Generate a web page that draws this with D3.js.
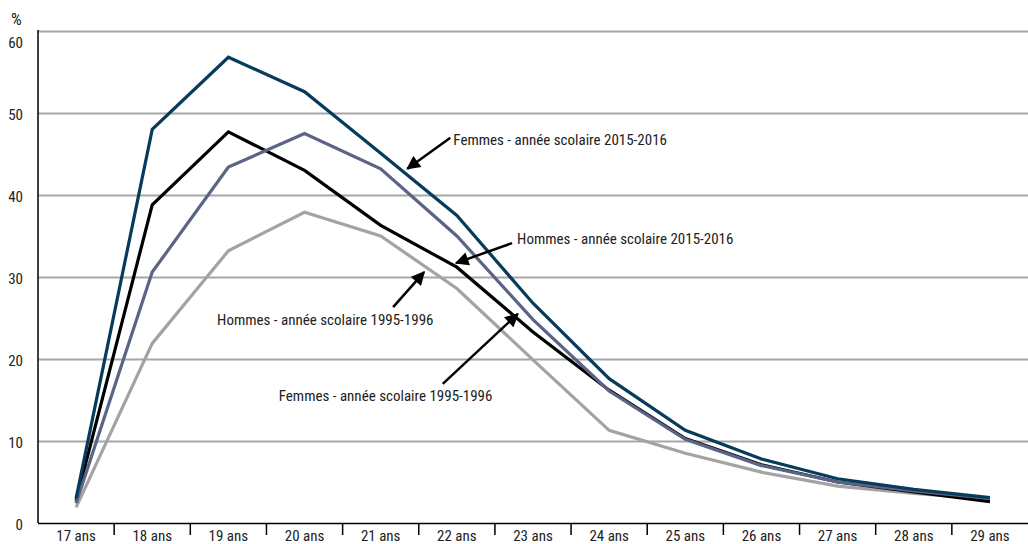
<!DOCTYPE html>
<html>
<head>
<meta charset="utf-8">
<script src="https://cdn.jsdelivr.net/npm/d3@7"></script>
<style>
  body { margin: 0; background: #fff; }
  svg text { font-family: "Liberation Sans Narrow", "Arial Narrow", "Roboto Condensed", sans-serif; fill: #222; }
</style>
</head>
<body>
<svg id="chart" width="1028" height="544"></svg>
<script>
'use strict';

// categories (age)
var categories = ["17 ans", "18 ans", "19 ans", "20 ans", "21 ans", "22 ans", "23 ans",
                  "24 ans", "25 ans", "26 ans", "27 ans", "28 ans", "29 ans"];

// taux en %
var femmes2015 = [3.0, 48.0, 56.8, 52.6, 45.1, 37.5, 26.8, 17.6, 11.3, 7.8, 5.4, 4.1, 3.1];
var hommes2015 = [2.7, 38.8, 47.7, 43.0, 36.3, 31.2, 23.3, 16.2, 10.3, 7.1, 5.0, 3.8, 2.6];
var femmes1995 = [2.4, 30.6, 43.4, 47.5, 43.2, 35.0, 24.8, 16.1, 10.2, 7.0, 5.0, 3.9, 3.0];
var hommes1995 = [1.9, 21.9, 33.2, 37.9, 35.0, 28.6, 19.9, 11.3, 8.5, 6.2, 4.5, 3.6, 2.9];

var yTicks = [0, 10, 20, 30, 40, 50, 60];

// annotations: label + arrow tip (category index, value)
var annoLabels = ["Femmes - année scolaire 2015-2016", "Hommes - année scolaire 2015-2016",
                  "Hommes - année scolaire 1995-1996", "Femmes - année scolaire 1995-1996"];
var annoTipIdx = [4.35, 4.99, 4.57, 5.80];
var annoTipVal = [43.2, 31.7, 30.6, 25.5];

var colors = {
    femmes2015: "#063b5c",
    hommes2015: "#000000",
    femmes1995: "#5b6485",
    hommes1995: "#a3a3a3",
    grid: "#a6a6a6"
};

var svg = d3.select("#chart");
var margin = {left: 38, right: 0, top: 31, bottom: 21};
var width = 1028, height = 544;

var x = d3.scaleBand()
          .domain(categories)
          .range([margin.left, width - margin.right])
          .padding(0);

// fractional index -> pixel (used for the line points and arrows)
function xPos(i) {
    return margin.left + x.bandwidth() * (i + 0.5);
}

var y = d3.scaleLinear()
          .domain([0, 60])
          .range([height - margin.bottom, margin.top]);

// grid + y labels
var yAxis = svg.append("g")
    .attr("transform", "translate(" + margin.left + ",0)")
    .call(d3.axisLeft(y)
            .tickValues(yTicks)
            .tickSize(-(width - margin.left - margin.right))
            .tickPadding(15)
            .tickFormat(d3.format("d")));

yAxis.select(".domain").remove();
yAxis.selectAll(".tick line")
     .attr("stroke", function(d) { return d === 0 ? "#000" : colors.grid; })
     .attr("stroke-width", function(d) { return d === 0 ? 1.5 : 2; });
yAxis.selectAll(".tick text")
     .attr("font-size", 15)
     .attr("fill", "#222")
     .attr("dy", function(d) { return d === 60 ? "1.1em" : "0.4em"; });

// y axis line
svg.append("line")
   .attr("x1", margin.left).attr("x2", margin.left)
   .attr("y1", y(60) - 1).attr("y2", y(0))
   .attr("stroke", "#000").attr("stroke-width", 1.5);

svg.append("text")
   .attr("x", 11).attr("y", 25)
   .attr("font-size", 17)
   .text("%");

// x axis: ticks between categories
svg.selectAll(".xtick")
   .data(categories.slice(1))
   .enter().append("line")
   .attr("class", "xtick")
   .attr("x1", function(d) { return x(d); })
   .attr("x2", function(d) { return x(d); })
   .attr("y1", y(0))
   .attr("y2", y(0) + 12)
   .attr("stroke", "#000").attr("stroke-width", 1.5);

svg.selectAll(".xlabel")
   .data(categories)
   .enter().append("text")
   .attr("class", "xlabel")
   .attr("x", function(d) { return x(d) + x.bandwidth() / 2; })
   .attr("y", 541)
   .attr("text-anchor", "middle")
   .attr("font-size", 15)
   .text(function(d) { return d; });

// lines
var line = d3.line()
             .x(function(d, i) { return xPos(i); })
             .y(function(d) { return y(d); });

var series = [
    {values: hommes1995, color: colors.hommes1995},
    {values: hommes2015, color: colors.hommes2015},
    {values: femmes1995, color: colors.femmes1995},
    {values: femmes2015, color: colors.femmes2015}
];

svg.selectAll(".serie")
   .data(series)
   .enter().append("path")
   .attr("class", "serie")
   .attr("fill", "none")
   .attr("stroke", function(d) { return d.color; })
   .attr("stroke-width", 3.2)
   .attr("stroke-linejoin", "miter")
   .attr("d", function(d) { return line(d.values); });

// annotations
svg.append("defs").append("marker")
   .attr("id", "arrowhead")
   .attr("viewBox", "0 0 10 10")
   .attr("refX", 9).attr("refY", 5)
   .attr("markerWidth", 6).attr("markerHeight", 5.5)
   .attr("markerUnits", "strokeWidth")
   .attr("orient", "auto")
   .append("path")
   .attr("d", "M0,0 L10,5 L0,10 Z")
   .attr("fill", "#000");

// text anchor point (left edge, baseline) and arrow tail, offset from the tip
var annoText = [[46, -24], [61, -19], [-207, 53], [-239, 87]];
var annoTail = [[43, -31], [56, -20], [-31, 35], [-75, 70]];

annoLabels.forEach(function(lbl, k) {
    var tx = xPos(annoTipIdx[k]);
    var ty = y(annoTipVal[k]);
    svg.append("line")
       .attr("x1", tx + annoTail[k][0]).attr("y1", ty + annoTail[k][1])
       .attr("x2", tx).attr("y2", ty)
       .attr("stroke", "#000").attr("stroke-width", 2.5)
       .attr("marker-end", "url(#arrowhead)");
    svg.append("text")
       .attr("x", tx + annoText[k][0])
       .attr("y", ty + annoText[k][1])
       .attr("font-size", 15)
       .text(lbl);
});
</script>
</body>
</html>
